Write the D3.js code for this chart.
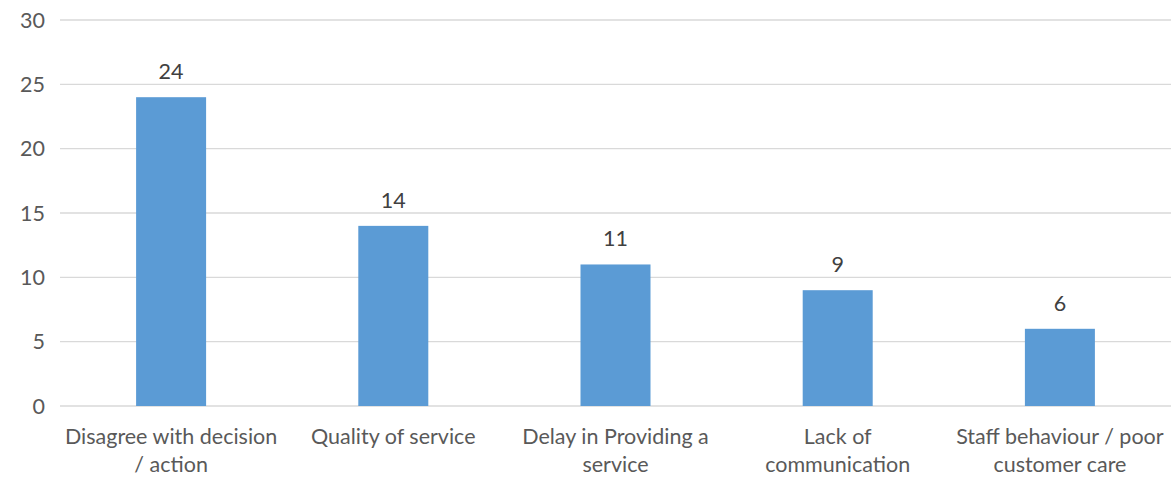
<!DOCTYPE html>
<html><head><meta charset="utf-8">
<script src="https://cdn.jsdelivr.net/npm/d3@7"></script>
<style>body{margin:0;background:#fff;} svg{display:block;}</style>
</head><body>
<svg id="chart" width="1173" height="478"></svg>
<script>
const categories = ["Disagree with decision / action", "Quality of service", "Delay in Providing a service", "Lack of communication", "Staff behaviour / poor customer care"];
const categoryLines = [["Disagree with decision", "/ action"], ["Quality of service"], ["Delay in Providing a", "service"], ["Lack of", "communication"], ["Staff behaviour / poor", "customer care"]];
const values = [24, 14, 11, 9, 6];
const yTicks = [0, 5, 10, 15, 20, 25, 30];

(function() {
const svg = d3.select("#chart");
const font = "Lato, 'Open Sans', sans-serif";
const fs = 21.5;
const mLeft = 60, mRight = 1171, mTop = 20, mBottom = 406;
const x = d3.scaleBand().domain(categories).range([mLeft, mRight]).paddingInner(0).paddingOuter(0);
const y = d3.scaleLinear().domain([0, 30]).range([mBottom, mTop]);
const barW = 70;

svg.append("g").selectAll("line").data(yTicks).join("line")
  .attr("x1", mLeft).attr("x2", mRight)
  .attr("y1", d => y(d)).attr("y2", d => y(d))
  .attr("stroke", "#d9d9d9").attr("stroke-width", 1.3);

svg.append("g").selectAll("text").data(yTicks).join("text")
  .attr("x", 45).attr("y", d => y(d)).attr("dy", "0.35em")
  .attr("text-anchor", "end").attr("font-family", font).attr("font-size", fs).attr("fill", "#595959")
  .text(d => d);

svg.append("g").selectAll("rect").data(values).join("rect")
  .attr("x", (d, i) => x(categories[i]) + x.bandwidth() / 2 - barW / 2)
  .attr("width", barW)
  .attr("y", d => y(d)).attr("height", d => y(0) - y(d))
  .attr("fill", "#5b9bd5");

svg.append("g").selectAll("text").data(values).join("text")
  .attr("x", (d, i) => x(categories[i]) + x.bandwidth() / 2)
  .attr("y", d => y(d) - 18)
  .attr("text-anchor", "middle").attr("font-family", font).attr("font-size", fs).attr("fill", "#404040")
  .text(d => d);

const lab = svg.append("g").selectAll("text").data(categoryLines).join("text")
  .attr("x", (d, i) => x(categories[i]) + x.bandwidth() / 2)
  .attr("y", 444)
  .attr("text-anchor", "middle").attr("font-family", font).attr("font-size", fs).attr("fill", "#595959");
lab.each(function(lines, i) {
  d3.select(this).selectAll("tspan").data(lines).join("tspan")
    .attr("x", x(categories[i]) + x.bandwidth() / 2)
    .attr("dy", (d, j) => j === 0 ? 0 : 28)
    .text(d => d);
});
})();
</script>
</body></html>
